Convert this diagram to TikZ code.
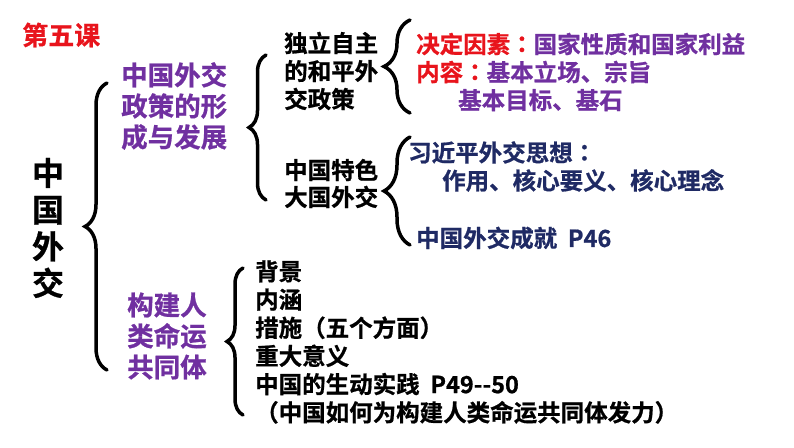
\documentclass[tikz,border=0pt]{standalone}
\usepackage{fontspec}
\setmainfont{Noto Sans CJK SC}[BoldFont={Noto Sans CJK SC Bold}, BoldFeatures={FakeBold=0.8}]
\newfontfamily\tcfont{Noto Sans CJK TC}[BoldFont={Noto Sans CJK TC Bold}, BoldFeatures={FakeBold=0.8}]
\usetikzlibrary{decorations.pathreplacing}
\definecolor{cred}{HTML}{E8141C}
\definecolor{cpurple}{HTML}{7030A0}
\definecolor{cnavy}{HTML}{1F2A64}
\newcommand{\tccolon}{{\tcfont ：}}
\begin{document}
\begin{tikzpicture}[x=1pt,y=-1pt,
  br/.style={decorate, decoration={brace, amplitude=#1}, line width=3.5pt, line cap=round},
  txt/.style={anchor=west, inner sep=0pt, align=left, font=\bfseries\fontsize{23.5}{28}\selectfont},
  head/.style={anchor=west, inner sep=0pt, align=left, text=cpurple, font=\bfseries\fontsize{26.5}{31}\selectfont}]
\useasboundingbox (0,0) rectangle (794,447);
% title
\node[anchor=west, inner sep=0pt, text=cred, font=\bfseries\fontsize{26}{30}\selectfont] (title) at (22,35) {第五课};
\node[anchor=center, inner sep=0pt, align=center, font=\bfseries\fontsize{32}{36.7}\selectfont] (root) at (48,228) {中\\国\\外\\交};
% level 1
\coordinate (b1t) at (107,83); \coordinate (b1b) at (107,370);
\draw[br=22pt] (b1b) -- (b1t);
\node[head] (h1) at (121,106) {中国外交\\政策的形\\成与发展};
\node[head] (h2) at (127,336) {构建人\\类命运\\共同体};
% level 2
\coordinate (b2t) at (266,55); \coordinate (b2b) at (266,200);
\draw[br=17pt] (b2b) -- (b2t);
\node[txt] (p1) at (284,71) {独立自主\\的和平外\\交政策};
\node[txt, font=\bfseries\fontsize{23.5}{27}\selectfont] (p2) at (284,183.5) {中国特色\\大国外交};
% level 3a
\coordinate (b3t) at (410,20); \coordinate (b3b) at (410,113);
\draw[br=26pt] (b3b) -- (b3t);
\node[txt, text=cpurple] (d1) at (416,72) {\textcolor{cred}{决定因素\tccolon}国家性质和国家利益\\\textcolor{cred}{内容\tccolon}基本立场、宗旨\\\hspace*{42pt}基本目标、基石};
% level 3b
\coordinate (b4t) at (410,137); \coordinate (b4b) at (410,245);
\draw[br=26pt] (b4b) -- (b4t);
\node[txt, text=cnavy] (x1) at (408,166.5) {习近平外交思想\tccolon\\\hspace*{34pt}作用、核心要义、核心理念};
\node[txt, text=cnavy] (x2) at (416,238) {中国外交成就\ \ P46};
% level 2b
\coordinate (b5t) at (243,268); \coordinate (b5b) at (243,415);
\draw[br=16pt] (b5b) -- (b5t);
\node[txt, font=\bfseries\fontsize{23.5}{28.2}\selectfont] (c1) at (255,342) {背景\\内涵\\措施（五个方面）\\重大意义\\中国的生动实践\ \ P49-{}-50\\（中国如何为构建人类命运共同体发力）};
\end{tikzpicture}
\end{document}
